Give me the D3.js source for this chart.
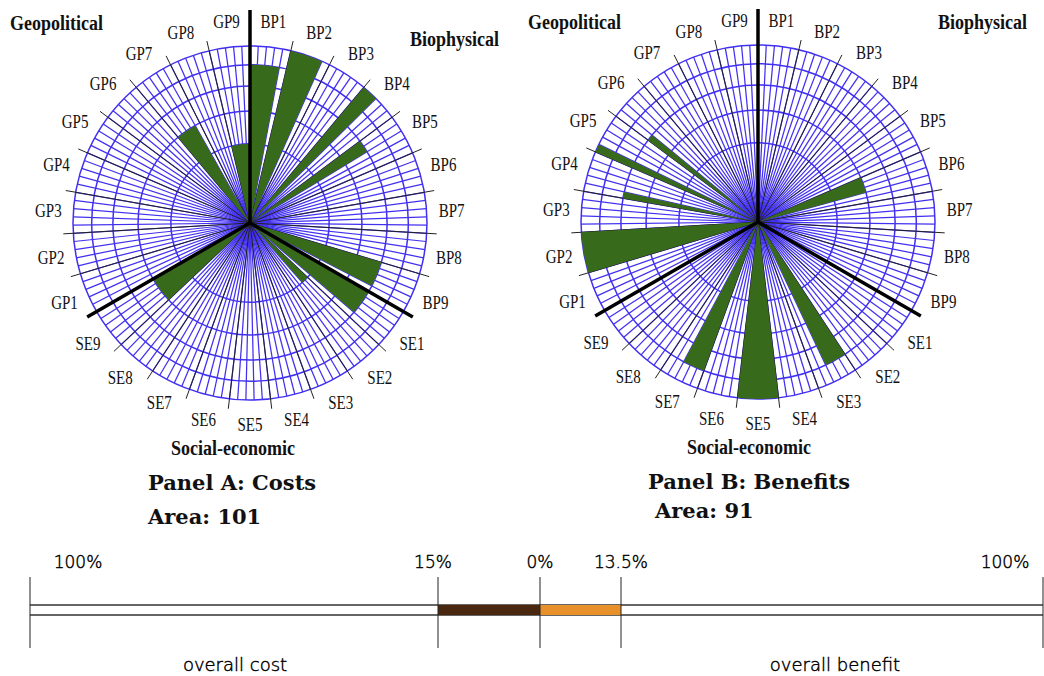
<!DOCTYPE html>
<html><head><meta charset="utf-8">
<script src="https://cdn.jsdelivr.net/npm/d3@7"></script>
<style>html,body{margin:0;padding:0;background:#fff;}svg{display:block;}</style>
</head><body>
<script>
// ---- data ----
const categories = ["BP1","BP2","BP3","BP4","BP5","BP6","BP7","BP8","BP9",
                    "SE1","SE2","SE3","SE4","SE5","SE6","SE7","SE8","SE9",
                    "GP1","GP2","GP3","GP4","GP5","GP6","GP7","GP8","GP9"];
const groups = ["Biophysical","Social-economic","Geopolitical"];
// severity (radial, 0-5) and likelihood width (number of fifths of the sector, 0-5)
const costSeverity    = [4,5,0,5,3,0,0,0,3, 3,1,0,0,0,0,0,0,2, 0,0,0,0,0,0,2,0,1];
const costWidth       = [4,4,0,2,2,0,0,0,4, 4,2,0,0,0,0,0,0,5, 0,0,0,0,0,0,4,0,5];
const benefitSeverity = [0,0,0,0,0,2,0,0,0, 0,0,4,0,5,0,4,0,0, 0,5,0,3,5,3,0,0,0];
const benefitWidth    = [0,0,0,0,0,3,0,0,0, 0,0,3,0,5,0,3,0,0, 0,5,0,1,1,1,0,0,0];
const gridValues = [1,2,3,4,5];
const panelTitles = ["Panel A: Costs","Panel B: Benefits"];
const barTicks = [-100,-15,0,13.5,100];
const barTickLabels = ["100%","15%","0%","13.5%","100%"];
const barLabels = ["overall cost","overall benefit"];

const W = 1044, H = 676;
const svg = d3.select("body").append("svg").attr("width",W).attr("height",H);

const R = 177;
const rScale = d3.scaleSqrt().domain([0,5]).range([0,R]);
const aScale = d3.scaleBand().domain(categories).range([0,2*Math.PI]).padding(0);
const sub = aScale.bandwidth()/5;
const BLUE = "#4230f0", GREEN = "#386a1c";

function pt(r,a){ return [r*Math.sin(a), -r*Math.cos(a)]; }

const panels = [
  {cx:250, cy:223, sev:costSeverity, wid:costWidth, title:panelTitles[0],
   tx:148, ty:490, ay:524, ax:148,
   gpos:[[410,46,"start"],[233,455,"middle"],[10,30,"start"]]},
  {cx:758, cy:222, sev:benefitSeverity, wid:benefitWidth, title:panelTitles[1],
   tx:648, ty:489, ay:518, ax:655,
   gpos:[[938,29,"start"],[749,454,"middle"],[528,29,"start"]]}
];

panels.forEach(p => {
  const g = svg.append("g").attr("transform",`translate(${p.cx},${p.cy})`);
  // radial blue lines
  const spokes = d3.range(categories.length*5).map(i => i*sub);
  g.selectAll("line.spoke").data(spokes).join("line").attr("class","spoke")
    .attr("x1",0).attr("y1",0)
    .attr("x2",a=>pt(R,a)[0]).attr("y2",a=>pt(R,a)[1])
    .attr("stroke",BLUE).attr("stroke-width",1.25);
  // circles
  g.selectAll("circle.grid").data(gridValues).join("circle").attr("class","grid")
    .attr("r",v=>rScale(v)).attr("fill","none").attr("stroke",BLUE).attr("stroke-width",1.5);
  // thin black boundary lines
  g.selectAll("line.tick").data(categories).join("line").attr("class","tick")
    .attr("x1",0).attr("y1",0)
    .attr("x2",c=>pt(R+10,aScale(c))[0]).attr("y2",c=>pt(R+10,aScale(c))[1])
    .attr("stroke","#222").attr("stroke-width",1);
  // wedges
  const arc = d3.arc();
  const wd = categories.map((c,i)=>({c, v:p.sev[i], w:p.wid[i]})).filter(d=>d.v>0 && d.w>0);
  g.selectAll("path.wedge").data(wd).join("path").attr("class","wedge")
    .attr("d",d=>arc({innerRadius:0, outerRadius:rScale(d.v),
        startAngle:aScale(d.c), endAngle:aScale(d.c)+d.w*sub}))
    .attr("fill",GREEN);
  // thick group separators
  const seps = groups.map((gname,i)=>({a:aScale(categories[i*9]), len: i===0 ? 213 : 188}));
  g.selectAll("line.sep").data(seps).join("line").attr("class","sep")
    .attr("x1",0).attr("y1",0)
    .attr("x2",d=>pt(d.len,d.a)[0]).attr("y2",d=>pt(d.len,d.a)[1])
    .attr("stroke","#000").attr("stroke-width",3.5);
  // category labels
  g.selectAll("text.cat").data(categories).join("text").attr("class","cat")
    .attr("transform",c=>{const q=pt(202,aScale(c)+aScale.bandwidth()/2);return `translate(${q[0]},${q[1]}) scale(1,1.2)`;})
    .attr("text-anchor","middle").attr("dominant-baseline","central")
    .attr("font-family","Liberation Serif, serif").attr("font-size",15).attr("fill","#111")
    .text(c=>c);
  // group titles
  groups.forEach((gname,i)=>{
    const [x,y,anc] = p.gpos[i];
    svg.append("text").attr("transform",`translate(${x},${y}) scale(1,1.15)`)
      .attr("text-anchor",anc).attr("font-family","Liberation Serif, serif")
      .attr("font-weight","bold").attr("font-size",18).attr("fill","#111").text(gname);
  });
  // panel title + area
  const area = d3.sum(p.sev.map((v,i)=>v*p.wid[i]));
  svg.append("text").attr("x",p.tx).attr("y",p.ty)
    .attr("font-family","DejaVu Serif, serif").attr("font-weight","bold").attr("font-size",21)
    .attr("fill","#111").text(p.title);
  svg.append("text").attr("x",p.ax).attr("y",p.ay)
    .attr("font-family","DejaVu Serif, serif").attr("font-weight","bold").attr("font-size",21)
    .attr("fill","#111").text("Area: "+area);
});

// ---- bottom bar ----
const xBar = d3.scaleLinear().domain(barTicks).range([30,438,540,621,1043]);
const bg = svg.append("g");
bg.selectAll("line.hl").data([605,615]).join("line").attr("class","hl")
  .attr("x1",xBar(-100)).attr("x2",xBar(100)).attr("y1",d=>d).attr("y2",d=>d)
  .attr("stroke","#333").attr("stroke-width",1.5);
bg.append("rect").attr("x",xBar(-15)).attr("width",xBar(0)-xBar(-15)).attr("y",605).attr("height",10).attr("fill","#4a2810");
bg.append("rect").attr("x",xBar(0)).attr("width",xBar(13.5)-xBar(0)).attr("y",605).attr("height",10).attr("fill","#e8902a");
bg.selectAll("line.vl").data(barTicks).join("line").attr("class","vl")
  .attr("x1",d=>xBar(d)).attr("x2",d=>xBar(d)).attr("y1",577).attr("y2",648)
  .attr("stroke","#222").attr("stroke-width",1);
const lblOff = [48,-5,0,0,-38];
bg.selectAll("text.bt").data(barTicks).join("text").attr("class","bt")
  .attr("x",(d,i)=>xBar(d)+lblOff[i]).attr("y",568)
  .attr("text-anchor","middle").attr("font-family","DejaVu Sans, sans-serif").attr("font-weight",200)
  .attr("font-size",17).attr("fill","#000").attr("stroke","#000").attr("stroke-width",0.45)
  .text((d,i)=>barTickLabels[i]);
bg.selectAll("text.bl").data(barLabels).join("text").attr("class","bl")
  .attr("x",(d,i)=>i===0?235:835).attr("y",671)
  .attr("text-anchor","middle").attr("font-family","DejaVu Sans, sans-serif").attr("font-weight",200)
  .attr("font-size",18).attr("fill","#000").attr("stroke","#000").attr("stroke-width",0.45)
  .text(d=>d);
</script>
</body></html>
